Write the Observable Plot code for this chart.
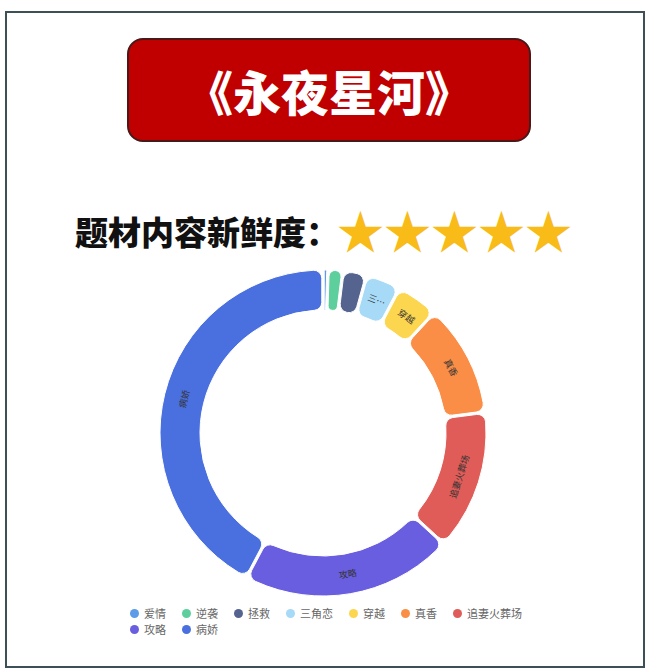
<!DOCTYPE html>
<html>
<head>
<meta charset="utf-8">
<script src="https://cdn.jsdelivr.net/npm/d3@7"></script>
<script src="https://cdn.jsdelivr.net/npm/@observablehq/plot@0.6"></script>
<style>
  html, body { margin: 0; padding: 0; background: #fff; }
  #page { position: relative; width: 651px; height: 672px; overflow: hidden; font-family: "Noto Sans CJK SC", "Noto Sans", sans-serif; }
  #frame { position: absolute; left: 5px; top: 11px; width: 636px; height: 653px; border: 2px solid #3d4f57; }
  #title { position: absolute; left: 127px; top: 38px; width: 400px; height: 100px; background: #c00000; border: 2px solid #4a1818; border-radius: 16px; display: flex; align-items: center; justify-content: center; color: #fff; font-size: 48px; font-weight: 900; line-height: 1; }
  #sub { position: absolute; left: 75px; top: 209px; height: 44px; display: flex; align-items: center; white-space: nowrap; }
  #sub .lab { font-size: 33px; font-weight: 900; color: #111; line-height: 44px; }
  #sub .stars { position: absolute; left: 262px; top: -4px; font-size: 47px; line-height: 47px; color: #f8bb17; letter-spacing: 0; }
  #chart { position: absolute; left: 0; top: 262px; }
  #legend { position: absolute; left: 130px; top: 605px; width: 400px; display: flex; flex-wrap: wrap; column-gap: 16px; row-gap: 0; font-size: 11px; color: #666; line-height: 16px; }
  #legend .item { display: flex; align-items: center; }
  #legend .dot { width: 9px; height: 9px; border-radius: 50%; margin-right: 5px; }
</style>
</head>
<body>
<div id="page">
  <div id="frame"></div>
  <div id="title"></div>
  <div id="sub"><span class="lab"></span><span class="stars"></span></div>
  <div id="chart"></div>
  <div id="legend"></div>
</div>
<script>
// ---- data ----
const titleText = "《永夜星河》";
const subtitleText = "题材内容新鲜度：";
const starRating = 5;
const categories = ["爱情", "逆袭", "拯救", "三角恋", "穿越", "真香", "追妻火葬场", "攻略", "病娇"];
const values = [0.3, 1.3, 2.2, 3.3, 4.0, 11.1, 13.9, 21.1, 42.8];
const palette = ["#5b9be8", "#5ccf9c", "#55648f", "#a6daf6", "#fdd64f", "#fb8e47", "#e05c58", "#6a5ee0", "#4a6fdf"];

// ---- header ----
document.getElementById("title").textContent = titleText;
document.querySelector("#sub .lab").textContent = subtitleText;
document.querySelector("#sub .stars").textContent = "★".repeat(starRating);

// ---- donut ----
const table = categories.map((c, i) => ({category: c, value: values[i]}));
const color = d3.scaleOrdinal(categories, palette);
const arcs = d3.pie().sort(null).value(d => d.value).padAngle(0.012)(table);

const OUTER_PX = 163, INNER_RATIO = 123 / 163, MID_RATIO = 143 / 163, LABEL_FS = 9;
const labelRows = arcs.map(a => {
  const mid = (a.startAngle + a.endAngle) / 2;
  const arcLen = OUTER_PX * MID_RATIO * (a.endAngle - a.startAngle);
  const name = a.data.category;
  let text = "";
  if (arcLen >= name.length * LABEL_FS + 8) text = name;
  else if (arcLen >= 2 * LABEL_FS + 8) text = name[0] + "…";
  let deg = mid * 180 / Math.PI;
  if (deg > 90 && deg < 270) deg -= 180;
  return {x: Math.sin(mid) * MID_RATIO, y: Math.cos(mid) * MID_RATIO, text, rotate: deg};
}).filter(d => d.text);

const donut = (index, scales) => {
  const cx = scales.x(0), cy = scales.y(0);
  const R = scales.x(1) - cx;
  const arc = d3.arc().innerRadius(R * INNER_RATIO).outerRadius(R).cornerRadius(8);
  const g = d3.create("svg:g").attr("transform", `translate(${cx},${cy})`);
  g.selectAll("path").data(arcs).join("path")
    .attr("d", arc)
    .attr("fill", d => color(d.data.category))
    .attr("stroke", "#fff")
    .attr("stroke-width", 1);
  return g.node();
};

const cyPx = 171;
const chart = Plot.plot({
  width: 651,
  height: 345,
  margin: 0,
  x: {domain: [-1, 1], range: [323 - OUTER_PX, 323 + OUTER_PX], axis: null},
  y: {domain: [-1, 1], range: [cyPx + OUTER_PX, cyPx - OUTER_PX], axis: null},
  style: {background: "transparent", overflow: "visible"},
  marks: [
    donut,
    Plot.text(labelRows, {x: "x", y: "y", text: "text", rotate: "rotate", fontSize: LABEL_FS, fill: "#333", fontFamily: "Noto Sans CJK SC"})
  ]
});
document.getElementById("chart").appendChild(chart);

// ---- legend ----
const legend = d3.select("#legend");
const items = legend.selectAll(".item").data(categories).join("div").attr("class", "item");
items.append("span").attr("class", "dot").style("background", d => color(d));
items.append("span").text(d => d);
</script>
</body>
</html>
